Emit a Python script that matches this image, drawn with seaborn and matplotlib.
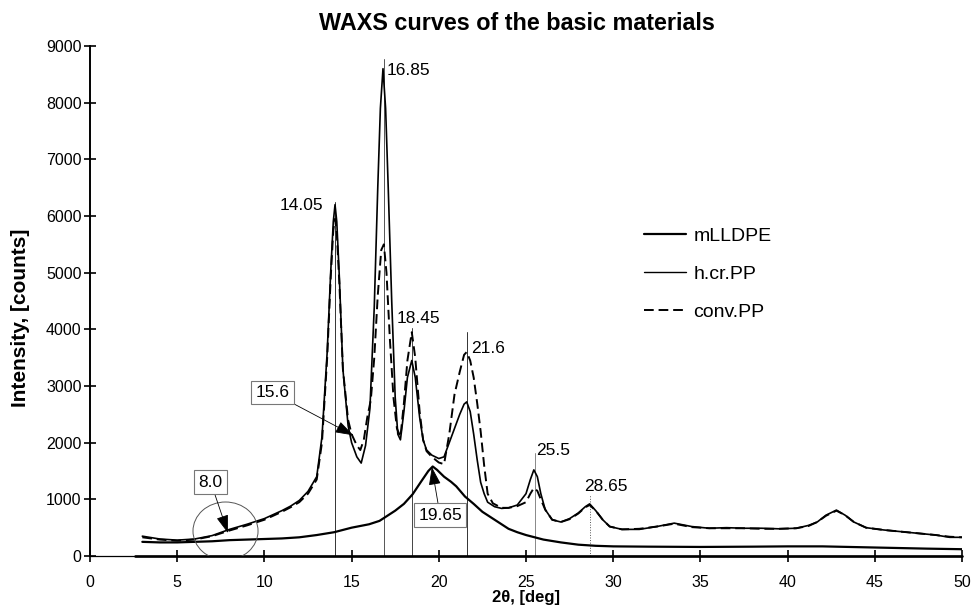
import matplotlib
matplotlib.use("Agg")
import matplotlib.pyplot as plt
from matplotlib.lines import Line2D
from matplotlib.patches import Ellipse
import seaborn as sns
import pandas as pd

# ---------------- data ----------------
angle_hcr = [3.0, 4.0, 5.0, 6.0, 7.0, 8.0, 9.0, 10.0, 11.0, 11.5, 12.0, 12.5, 13.0, 13.3, 13.6, 13.8,
             13.95, 14.05, 14.15, 14.3, 14.5, 14.8, 15.0, 15.3, 15.55, 15.8, 16.05, 16.3, 16.5, 16.65,
             16.8, 16.95, 17.1, 17.3, 17.5, 17.65, 17.8, 18.0, 18.2, 18.45, 18.65, 18.9, 19.1, 19.3,
             19.6, 20.0, 20.3, 20.6, 20.9, 21.2, 21.45, 21.6, 21.8, 22.0, 22.2, 22.4, 22.6, 22.8,
             23.2, 23.6, 24.0, 24.5, 25.0, 25.25, 25.45, 25.65, 25.85, 26.1, 26.5, 27.0, 27.5, 28.0,
             28.4, 28.65, 29.0, 29.4, 29.8, 30.5, 31.5, 32.5, 33.5, 34.5, 35.5, 36.5, 37.5, 38.5,
             39.5, 40.5, 41.2, 41.7, 42.2, 42.8, 43.3, 43.8, 44.5, 45.5, 46.5, 47.5, 48.5, 49.3, 50.0]
int_hcr = [350, 300, 280, 300, 360, 470, 560, 660, 800, 880, 980, 1140, 1400, 2100, 3600, 5000,
           5900, 6200, 5900, 4900, 3300, 2300, 2000, 1750, 1640, 1950, 2600, 4400, 6500, 7900,
           8600, 7900, 6500, 4500, 2800, 2150, 2050, 2550, 3150, 3450, 3150, 2450, 2050, 1870,
           1780, 1720, 1750, 2000, 2250, 2500, 2680, 2720, 2550, 2150, 1700, 1300, 1100, 950,
           870, 840, 850, 900, 1100, 1350, 1520, 1400, 1100, 820, 640, 600, 660, 760,
           870, 920, 800, 640, 520, 470, 470, 520, 580, 520, 490, 500, 490, 490,
           480, 490, 540, 600, 720, 810, 720, 600, 500, 460, 430, 400, 370, 330, 330]

angle_conv = [3.0, 4.0, 5.0, 6.0, 7.0, 8.0, 9.0, 10.0, 11.0, 11.5, 12.0, 12.5, 13.0, 13.3, 13.6, 13.8,
              13.95, 14.05, 14.15, 14.3, 14.5, 14.8, 15.0, 15.3, 15.5, 15.7, 15.9, 16.1, 16.3, 16.5,
              16.7, 16.85, 17.0, 17.2, 17.4, 17.6, 17.8, 18.0, 18.2, 18.45, 18.65, 18.9, 19.1, 19.3,
              19.6, 20.0, 20.3, 20.6, 20.9, 21.2, 21.45, 21.6, 21.8, 22.0, 22.2, 22.4, 22.6, 22.8,
              23.1, 23.6, 24.0, 24.5, 25.0, 25.25, 25.45, 25.65, 25.85, 26.1, 26.5, 27.0, 27.5, 28.0,
              28.4, 28.65, 29.0, 29.4, 29.8, 30.5, 31.5, 32.5, 33.5, 34.5, 35.5, 36.5, 37.5, 38.5,
              39.5, 40.5, 41.2, 41.7, 42.2, 42.8, 43.3, 43.8, 44.5, 45.5, 46.5, 47.5, 48.5, 49.3, 50.0]
int_conv = [330, 290, 270, 290, 350, 450, 540, 640, 780, 860, 950, 1100, 1350, 2000, 3500, 4900,
            5750, 5950, 5700, 4800, 3300, 2400, 2150, 1950, 1870, 2050, 2450, 2750, 3500, 4600,
            5400, 5500, 5000, 3800, 2800, 2250, 2100, 2700, 3450, 3950, 3500, 2550, 2050, 1850,
            1750, 1650, 1620, 2150, 2850, 3250, 3550, 3600, 3450, 3150, 2700, 2200, 1600, 1100,
            930, 850, 850, 880, 950, 1100, 1200, 1150, 1000, 820, 640, 600, 650, 750,
            860, 900, 800, 640, 520, 470, 480, 520, 570, 510, 490, 490, 490, 480,
            480, 490, 530, 600, 710, 800, 720, 600, 500, 460, 430, 400, 370, 340, 330]

angle_ll = [3.0, 4.0, 5.0, 6.0, 7.0, 8.0, 9.0, 10.0, 11.0, 12.0, 13.0, 14.0, 15.0, 16.0, 16.6, 17.0,
            17.5, 18.0, 18.5, 19.0, 19.4, 19.65, 19.9, 20.3, 20.7, 21.0, 21.5, 22.0, 22.5, 23.0,
            23.5, 24.0, 24.5, 25.0, 25.5, 26.0, 27.0, 28.0, 29.0, 30.0, 32.0, 35.0, 38.0, 40.0,
            42.0, 45.0, 48.0, 50.0]
int_ll = [250, 240, 240, 250, 260, 280, 290, 300, 310, 330, 370, 420, 500, 560, 620, 700,
          800, 920, 1090, 1320, 1500, 1580, 1520, 1400, 1310, 1230, 1050, 920, 780, 680,
          580, 480, 420, 370, 330, 290, 240, 200, 180, 170, 165, 160, 165, 170,
          170, 150, 130, 120]

# zero-level trace visible along the x axis from about 2.6 deg onward
angle_base = [2.6, 50.0]
int_base = [0, 0]

series_names = ["mLLDPE", "h.cr.PP", "conv.PP"]

peak_pos = [14.05, 16.85, 18.45, 21.6, 25.5, 28.65]
peak_top = [6250, 8770, 4020, 3960, 1820, 1080]
peak_text = ["14.05", "16.85", "18.45", "21.6", "25.5", "28.65"]

box_text = ["15.6", "8.0", "19.65"]

x_ticks = [0, 5, 10, 15, 20, 25, 30, 35, 40, 45, 50]
y_ticks = [0, 1000, 2000, 3000, 4000, 5000, 6000, 7000, 8000, 9000]

# ---------------- figure ----------------
sns.set_theme(style="white")
plt.rcParams["font.family"] = ["Liberation Sans", "DejaVu Sans"]
plt.rcParams["text.color"] = "black"
plt.rcParams["axes.labelcolor"] = "black"
plt.rcParams["xtick.color"] = "black"
plt.rcParams["ytick.color"] = "black"

fig = plt.figure(figsize=(9.72, 6.11), dpi=100)
ax = fig.add_axes([0.0926, 0.090, 0.8971, 0.8347])

df_ll = pd.DataFrame({"angle": angle_ll, "intensity": int_ll})
df_hcr = pd.DataFrame({"angle": angle_hcr, "intensity": int_hcr})
df_conv = pd.DataFrame({"angle": angle_conv, "intensity": int_conv})
df_base = pd.DataFrame({"angle": angle_base, "intensity": int_base})

# peak marker lines
line_styles = ["-", "-", "-", "-", "-", ":"]
line_colors = ["#333333", "#555555", "#444444", "#333333", "#888888", "#555555"]
for p, t, ls, c in zip(peak_pos, peak_top, line_styles, line_colors):
    ax.plot([p, p], [0, t], color=c, lw=0.7, ls=ls, zorder=1)

sns.lineplot(data=df_base, x="angle", y="intensity", ax=ax, color="black", lw=1.9,
             estimator=None, sort=False, zorder=2, clip_on=False)
sns.lineplot(data=df_ll, x="angle", y="intensity", ax=ax, color="black", lw=1.6,
             estimator=None, sort=False, zorder=3)
sns.lineplot(data=df_hcr, x="angle", y="intensity", ax=ax, color="black", lw=1.2,
             estimator=None, sort=False, zorder=3)
sns.lineplot(data=df_conv, x="angle", y="intensity", ax=ax, color="black", lw=1.4,
             estimator=None, sort=False, zorder=3, dashes=False, linestyle=(0, (5, 2.5)))

# peak labels
fs = 12.5
ax.text(13.36, 6190, peak_text[0], ha="right", va="center", fontsize=fs)
ax.text(16.98, 8560, peak_text[1], ha="left", va="center", fontsize=fs)
ax.text(17.58, 4200, peak_text[2], ha="left", va="center", fontsize=fs)
ax.text(21.85, 3670, peak_text[3], ha="left", va="center", fontsize=fs)
ax.text(25.58, 1870, peak_text[4], ha="left", va="center", fontsize=fs)
ax.text(28.33, 1235, peak_text[5], ha="left", va="center", fontsize=fs)

# boxed annotations with arrows
bbox = dict(boxstyle="square,pad=0.25", fc="white", ec="#777777", lw=0.8)
arrow = dict(arrowstyle="-|>,head_length=0.9,head_width=0.3", color="black", lw=0.6,
             shrinkA=0, shrinkB=0)
ax.annotate(box_text[0], xy=(15.1, 2130), xytext=(10.46, 2885), ha="center", va="center",
            fontsize=fs, bbox=bbox, arrowprops=arrow, zorder=5)
ax.annotate(box_text[1], xy=(7.91, 405), xytext=(6.92, 1306), ha="center", va="center",
            fontsize=fs, bbox=bbox, arrowprops=arrow, zorder=5)
ax.annotate(box_text[2], xy=(19.6, 1570), xytext=(20.07, 723), ha="center", va="center",
            fontsize=fs, bbox=bbox, arrowprops=arrow, zorder=5)

ax.add_patch(Ellipse((7.77, 441), width=3.73, height=1024, fill=False, ec="#555555", lw=0.7,
                     zorder=4))

# axes styling
ax.set_xlim(0, 50)
ax.set_ylim(0, 9000)
ax.set_xticks(x_ticks)
ax.set_yticks(y_ticks)
ax.set_xticklabels([str(v) for v in x_ticks])
ax.set_yticklabels([str(v) for v in y_ticks])
for s in ["top", "right"]:
    ax.spines[s].set_visible(False)
ax.spines["left"].set_color("black")
ax.spines["left"].set_linewidth(1.4)
ax.spines["bottom"].set_color("black")
ax.spines["bottom"].set_linewidth(0.9)
ax.tick_params(axis="both", direction="inout", length=9, width=1.2, colors="black",
               labelsize=11.5, left=True, bottom=True)
ax.tick_params(axis="x", pad=9.5)
ax.tick_params(axis="y", pad=1.5)
ax.set_xlabel("2θ, [deg]", fontsize=12, fontweight="bold", labelpad=0)
ax.set_ylabel("Intensity, [counts]", fontsize=15, fontweight="bold")
ax.yaxis.set_label_coords(-0.069, 0.467)
ax.set_title("WAXS curves of the basic materials", fontsize=16.8, fontweight="bold",
             pad=11.5, x=0.49)

handles = [Line2D([], [], color="black", lw=1.6),
           Line2D([], [], color="black", lw=1.0),
           Line2D([], [], color="black", lw=1.4, ls=(0, (5, 2.5)))]
ax.legend(handles, series_names, loc="center left", bbox_to_anchor=(0.624, 0.553),
          frameon=False, fontsize=14, handlelength=2.15, handletextpad=0.4,
          labelspacing=1.05, borderpad=0)

fig.savefig("out.png", dpi=100)
